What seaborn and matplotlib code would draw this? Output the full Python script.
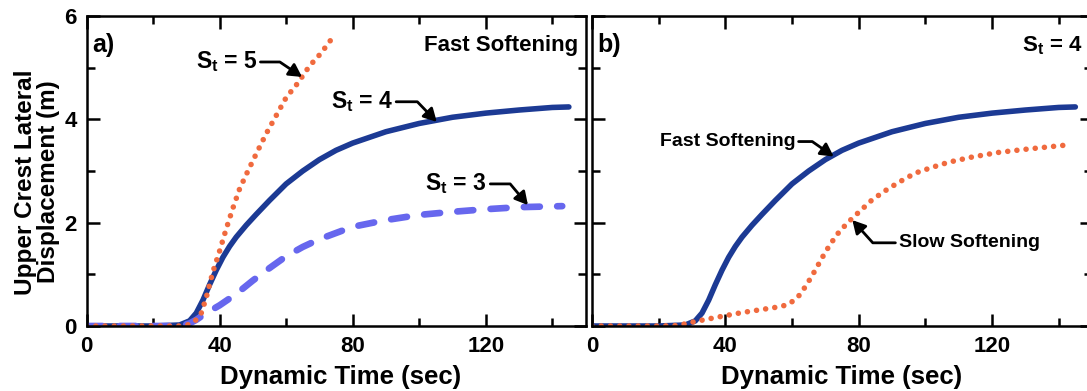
import numpy as np
import pandas as pd
import matplotlib
matplotlib.use('Agg')
import matplotlib.pyplot as plt
import seaborn as sns

# curvas: tiempo (s) y desplazamiento (m)
t_st5 = [0, 10, 20, 28, 31, 33, 34.5, 36, 38, 40, 42, 44, 46, 48, 51, 54, 57, 60, 63.5, 67, 70.5, 73.6]
d_st5 = [0, 0, 0, 0, 0.03, 0.12, 0.25, 0.55, 1.05, 1.45, 1.88, 2.28, 2.65, 2.93, 3.33, 3.72, 4.07, 4.42, 4.7, 5.03, 5.28, 5.55]

t_st4 = [0, 10, 20, 28, 31, 33, 35, 37, 39, 41, 43, 45, 48, 51, 55, 60, 65, 70, 75, 80, 90, 100, 110, 120, 130, 140, 145]
d_st4 = [0, 0, 0, 0.02, 0.1, 0.25, 0.5, 0.8, 1.08, 1.33, 1.54, 1.72, 1.95, 2.16, 2.43, 2.75, 3.0, 3.22, 3.4, 3.54, 3.76, 3.92, 4.04, 4.12, 4.18, 4.23, 4.24]

t_st3 = [0, 10, 20, 28, 31, 33, 36, 40, 45, 50, 55, 60, 65, 70, 75, 80, 90, 100, 110, 120, 130, 143]
d_st3 = [0, 0, 0, 0, 0.05, 0.12, 0.25, 0.4, 0.62, 0.88, 1.12, 1.35, 1.53, 1.68, 1.8, 1.92, 2.05, 2.15, 2.21, 2.26, 2.3, 2.32]

t_slow = [0, 10, 20, 26, 29, 32, 36, 40, 45, 50, 55, 58, 60, 62, 64, 66, 68, 70, 72, 74, 76, 78, 80, 84, 88, 92, 97, 102, 107, 114, 122, 130, 136, 142]
d_slow = [0, 0, 0, 0.01, 0.06, 0.1, 0.15, 0.2, 0.26, 0.31, 0.36, 0.4, 0.47, 0.58, 0.76, 0.97, 1.2, 1.43, 1.63, 1.81, 1.95, 2.08, 2.2, 2.44, 2.62, 2.78, 2.96, 3.07, 3.17, 3.27, 3.36, 3.42, 3.46, 3.5]

x_ticks = [0, 40, 80, 120]
y_ticks = [0, 2, 4, 6]

azul = '#1c3a94'
naranja = '#f06a3e'
celeste = '#6767ee'

sns.set_theme(style='ticks')
plt.rcParams['font.family'] = ['Liberation Sans', 'DejaVu Sans']
plt.rcParams['font.weight'] = 'bold'
plt.rcParams['mathtext.fontset'] = 'custom'
plt.rcParams['mathtext.rm'] = 'Liberation Sans:bold'
plt.rcParams['mathtext.it'] = 'Liberation Sans:bold'
plt.rcParams['mathtext.bf'] = 'Liberation Sans:bold'
for k in ['text.color', 'axes.labelcolor', 'xtick.color', 'ytick.color', 'axes.edgecolor']:
    plt.rcParams[k] = 'black'

fig = plt.figure(figsize=(10.87, 3.91), dpi=100)
ax1 = fig.add_axes([86.5/1087, 1-326/391, 499/1087, 310/391])
ax2 = fig.add_axes([592/1087, 1-326/391, 500/1087, 310/391])

punteado = dict(linestyle=(0, (0.01, 1.65)), dash_capstyle='round', lw=4.0)

sns.lineplot(x=t_st4, y=d_st4, ax=ax1, color=azul, lw=4.0, errorbar=None)
sns.lineplot(x=t_st3, y=d_st3, ax=ax1, color=celeste, lw=4.8, linestyle=(0, (2.4, 2.6)),
             dash_capstyle='round', errorbar=None)
sns.lineplot(x=t_st5, y=d_st5, ax=ax1, color=naranja, errorbar=None, **punteado)

sns.lineplot(x=t_st4, y=d_st4, ax=ax2, color=azul, lw=4.0, errorbar=None)
sns.lineplot(x=t_slow, y=d_slow, ax=ax2, color=naranja, errorbar=None, **punteado)


def flecha(ax, texto, xy, xytext, angB, ha='right', size=16.5):
    ax.annotate(texto, xy=xy, xytext=xytext, ha=ha, va='center', fontsize=size, fontweight='bold',
                arrowprops=dict(arrowstyle='-|>,head_length=0.55,head_width=0.3', color='black', lw=2,
                                mutation_scale=14, shrinkA=0, shrinkB=0,
                                connectionstyle=f'angle,angleA=0,angleB={angB},rad=0'))


flecha(ax1, r'S$_\mathrm{t}$ = 5', (64.8, 4.82), (51.3, 5.11), -34)
flecha(ax1, r'S$_\mathrm{t}$ = 4', (105.3, 3.95), (92.1, 4.34), -46)
flecha(ax1, r'S$_\mathrm{t}$ = 3', (132.7, 2.34), (120.4, 2.75), -50)
flecha(ax2, 'Fast Softening', (72.5, 3.28), (61.0, 3.57), -35, size=14)
flecha(ax2, 'Slow Softening', (78.1, 2.05), (92.0, 1.61), 132, ha='left', size=14)

ax1.text(0.011, 0.905, 'a)', transform=ax1.transAxes, fontsize=18, fontweight='bold', va='center')
ax1.text(0.985, 0.905, 'Fast Softening', transform=ax1.transAxes, fontsize=16, fontweight='bold',
         va='center', ha='right')
ax2.text(0.01, 0.905, 'b)', transform=ax2.transAxes, fontsize=18, fontweight='bold', va='center')
ax2.text(0.98, 0.905, r'S$_\mathrm{t}$ = 4', transform=ax2.transAxes, fontsize=16, fontweight='bold',
         va='center', ha='right')

for ax in [ax1, ax2]:
    ax.set_xlim(0, 150)
    ax.set_ylim(0, 6)
    ax.set_xticks(x_ticks)
    ax.set_xticks([20, 60, 100, 140], minor=True)
    ax.set_yticks(y_ticks)
    ax.set_yticks([1, 3, 5], minor=True)
    ax.tick_params(which='both', direction='in', top=True, right=True, width=1.8, labelsize=16, pad=7)
    ax.tick_params(which='major', length=9)
    ax.tick_params(which='minor', length=6)
    for s in ax.spines.values():
        s.set_linewidth(1.8)
        s.set_visible(True)
    ax.set_xlabel('Dynamic Time (sec)', fontsize=18.5, fontweight='bold')
    for lb in ax.get_xticklabels() + ax.get_yticklabels():
        lb.set_fontweight('bold')

ax1.xaxis.set_label_coords(0.51, -0.125)
ax2.xaxis.set_label_coords(0.5, -0.125)
ax2.tick_params(labelleft=False)
ax2.set_ylabel('')
ax1.set_ylabel('Upper Crest Lateral\nDisplacement (m)', fontsize=17.5, fontweight='bold', linespacing=1.0)
ax1.yaxis.set_label_coords(-0.053, 0.465)

fig.savefig('out.png', dpi=100)
